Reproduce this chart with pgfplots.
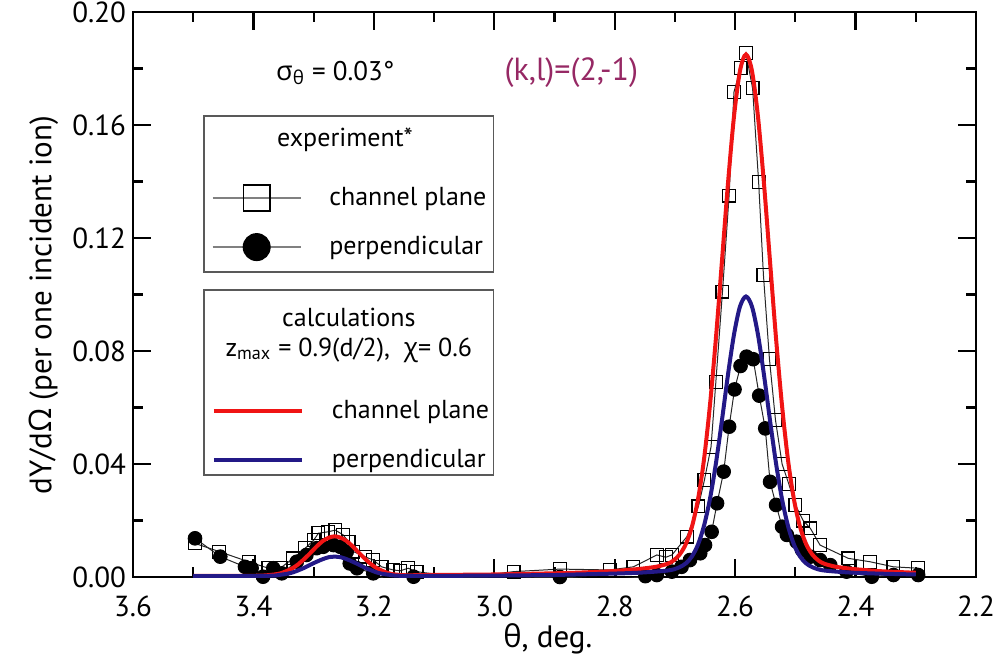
\documentclass[border=0pt]{standalone}
\usepackage{fontspec}
\setmainfont{PT Sans}
\newfontfamily\greekfont{Open Sans}
\newcommand{\gr}[1]{{\greekfont #1}}
\usepackage{pgfplots}
\pgfplotsset{compat=1.18}

\definecolor{calcred}{RGB}{240,20,20}
\definecolor{calcblue}{RGB}{35,25,135}
\definecolor{klcol}{RGB}{150,40,100}

\pgfplotsset{
  base/.style={
    scale only axis, width=421.5pt, height=282.5pt,
    x dir=reverse, xmin=2.2, xmax=3.6, ymin=0, ymax=0.2,
    clip mode=individual,
  },
  leg/.style={
    legend cell align=left,
    legend style={draw=none, fill=none, inner sep=0pt, outer sep=0pt,
      row sep=0pt, column sep=0pt, anchor=north west,
      cells={anchor=west},
      nodes={inner xsep=14pt, inner ysep=0pt, minimum height=24.5pt,
             font=\fontsize{13}{15}\selectfont}},
  },
  exp image/.style={legend image code/.code={
      \draw[gray, line width=0.7pt] (0pt,0pt) -- (44pt,0pt);
      \draw[#1, mark size=6.6pt, mark options={solid, black, line width=0.8pt}] plot coordinates {(22pt,0pt)};
  }},
  calc image/.style={legend image code/.code={
      \draw[#1] (0pt,0pt) -- (44pt,0pt);
  }},
}

\begin{document}
\begin{tikzpicture}
\path[use as bounding box] (-66.5pt,-41.5pt) rectangle (437.5pt,288.5pt);

% experimental yields
\begin{axis}[base, leg,
  legend style={at={(axis description cs:0.0937,0.714)}},
  tick align=inside, xtick pos=both, ytick pos=both,
  xticklabel pos=bottom, yticklabel pos=left,
  xtick={2.2,2.4,2.6,2.8,3.0,3.2,3.4,3.6}, minor x tick num=1,
  ytick={0,0.04,0.08,0.12,0.16,0.20}, minor y tick num=1,
  scaled y ticks=false,
  major tick length=9pt, minor tick length=5pt,
  every tick/.style={black, line width=1.1pt},
  axis line style={line width=1.2pt},
  /pgf/number format/assume math mode=true,
  xticklabel style={/pgf/number format/.cd, fixed, fixed zerofill, precision=1,
    /tikz/.cd, yshift=-6pt},
  yticklabel style={/pgf/number format/.cd, fixed, fixed zerofill, precision=2},
  tick label style={font=\fontsize{14.5}{17}\selectfont},
]
\addplot[black!85, line width=0.5pt, mark=square, mark size=3.2pt,
  mark options={solid, black, line width=0.6pt}, exp image] coordinates {
(3.497,0.0119) (3.457,0.0090) (3.408,0.0054) (3.375,0.0031) (3.355,0.0032)
(3.334,0.0066) (3.314,0.0102) (3.300,0.0130) (3.292,0.0155) (3.276,0.0160)
(3.264,0.0166) (3.251,0.0149) (3.242,0.0125) (3.234,0.0090) (3.215,0.0072)
(3.201,0.0060) (3.187,0.0036) (3.168,0.0025) (3.156,0.0022) (3.143,0.0031)
(3.129,0.0019) (3.052,-0.0003) (2.968,0.0019) (2.891,0.0028) (2.808,0.0025)
(2.769,0.0036) (2.730,0.0078) (2.715,0.0070) (2.705,0.0078) (2.680,0.0143)
(2.661,0.0250) (2.651,0.0343) (2.640,0.0461) (2.632,0.0691) (2.621,0.1010)
(2.610,0.1350) (2.602,0.1716) (2.591,0.1801) (2.582,0.1854) (2.571,0.1730)
(2.561,0.1399) (2.553,0.1069) (2.543,0.0771) (2.533,0.0556) (2.522,0.0400)
(2.511,0.0330) (2.500,0.0255) (2.487,0.0200) (2.475,0.0172) (2.459,0.0113)
(2.412,0.0066) (2.376,0.0054) (2.337,0.0036) (2.296,0.0031)
};
\addlegendentry{channel plane}
\addplot[black!85, line width=0.5pt, mark=*, mark size=3.4pt,
  mark options={solid, black}, exp image] coordinates {
(3.497,0.0137) (3.455,0.0072) (3.414,0.0036) (3.403,0.0031) (3.384,0.0001)
(3.367,0.0031) (3.353,0.0013) (3.328,0.0054) (3.312,0.0078) (3.295,0.0102)
(3.284,0.0107) (3.267,0.0113) (3.256,0.0107) (3.245,0.0090) (3.240,0.0048)
(3.228,0.0031) (3.201,0.0013) (3.184,-0.0005) (3.168,-0.0005) (3.151,-0.0005)
(3.134,0.0001) (2.971,-0.0005) (2.891,0.0000) (2.808,-0.0010) (2.769,-0.0003)
(2.749,0.0003) (2.730,0.0007) (2.705,0.0019) (2.689,0.0036) (2.675,0.0060)
(2.658,0.0084) (2.650,0.0113) (2.639,0.0160) (2.630,0.0261) (2.619,0.0373)
(2.610,0.0532) (2.601,0.0664) (2.591,0.0747) (2.581,0.0780) (2.570,0.0771)
(2.560,0.0642) (2.550,0.0526) (2.542,0.0337) (2.532,0.0255) (2.522,0.0178)
(2.514,0.0149) (2.498,0.0125) (2.489,0.0096) (2.475,0.0072) (2.459,0.0060)
(2.442,0.0042) (2.415,0.0019) (2.373,0.0001) (2.337,0.0007) (2.296,0.0007)
};
\addlegendentry{perpendicular}

% axis titles
\node[font=\fontsize{15.5}{18}\selectfont] at (axis description cs:0.492,-0.11)
  {\gr{θ}, deg.};
\node[font=\fontsize{15.5}{18}\selectfont, rotate=90] at (axis description cs:-0.106,0.481)
  {dY/d\gr{Ω} (per one incident ion)};

% annotations and legend frames
\node[font=\fontsize{13.5}{16}\selectfont] at (axis cs:3.264,0.1784)
  {\gr{σ}\textsubscript{\gr{θ}} = 0.03°};
\node[font=\fontsize{16}{19}\selectfont, text=klcol] at (axis cs:2.872,0.1784)
  {(k,l)=(2,-1)};
\draw[black!65, line width=0.6pt] (axis description cs:0.0842,0.540)
  rectangle (axis description cs:0.428,0.816);
\draw[black!65, line width=0.6pt] (axis description cs:0.0842,0.1805)
  rectangle (axis description cs:0.428,0.508);
\node[font=\fontsize{13}{15}\selectfont] at (axis description cs:0.2515,0.7735)
  {experiment*};
\node[font=\fontsize{13}{15}\selectfont] at (axis description cs:0.256,0.460)
  {calculations};
\node[font=\fontsize{13}{15}\selectfont] at (axis description cs:0.256,0.402)
  {z\textsubscript{max} = 0.9(d/2),\ \ \gr{χ}= 0.6};
\end{axis}

% calculated yields
\begin{axis}[base, leg, hide axis,
  legend style={at={(axis description cs:0.0937,0.3372)}},
]
\addplot[calcred, line width=2pt, smooth, calc image] coordinates {
(3.500,0.0004) (3.450,0.0004) (3.415,0.0004) (3.385,0.0005) (3.365,0.0009)
(3.355,0.0013) (3.345,0.0021) (3.335,0.0031) (3.325,0.0046) (3.315,0.0065)
(3.305,0.0086) (3.295,0.0108) (3.285,0.0127) (3.275,0.0139) (3.265,0.0144)
(3.255,0.0139) (3.245,0.0127) (3.235,0.0108) (3.225,0.0086) (3.215,0.0065)
(3.205,0.0046) (3.195,0.0031) (3.185,0.0021) (3.175,0.0013) (3.165,0.0009)
(3.145,0.0006) (3.115,0.0007) (3.050,0.0008) (3.000,0.0009) (2.950,0.0011)
(2.882,0.0014) (2.842,0.0017) (2.802,0.0021) (2.762,0.0028) (2.732,0.0036)
(2.712,0.0047) (2.702,0.0059) (2.692,0.0080) (2.682,0.0116) (2.672,0.0176)
(2.662,0.0271) (2.652,0.0411) (2.642,0.0604) (2.632,0.0843) (2.622,0.1115)
(2.612,0.1390) (2.602,0.1628) (2.592,0.1791) (2.582,0.1850) (2.572,0.1791)
(2.562,0.1628) (2.552,0.1390) (2.542,0.1115) (2.532,0.0843) (2.522,0.0604)
(2.512,0.0411) (2.502,0.0271) (2.492,0.0176) (2.482,0.0116) (2.472,0.0080)
(2.462,0.0059) (2.452,0.0047) (2.432,0.0036) (2.402,0.0028) (2.362,0.0021)
(2.322,0.0017) (2.300,0.0015)
};
\addlegendentry{channel plane}
\addplot[calcblue, line width=2pt, smooth, calc image] coordinates {
(3.500,0.0003) (3.415,0.0003) (3.385,0.0004) (3.365,0.0005) (3.355,0.0008)
(3.345,0.0011) (3.335,0.0016) (3.325,0.0024) (3.315,0.0033) (3.305,0.0044)
(3.295,0.0054) (3.285,0.0063) (3.275,0.0070) (3.265,0.0072) (3.255,0.0070)
(3.245,0.0063) (3.235,0.0054) (3.225,0.0044) (3.215,0.0033) (3.205,0.0024)
(3.195,0.0016) (3.185,0.0011) (3.175,0.0008) (3.165,0.0005) (3.145,0.0004)
(3.100,0.0004) (3.000,0.0005) (2.950,0.0006) (2.900,0.0007) (2.882,0.0008)
(2.842,0.0010) (2.802,0.0012) (2.762,0.0015) (2.732,0.0019) (2.712,0.0023)
(2.702,0.0027) (2.692,0.0035) (2.682,0.0048) (2.672,0.0072) (2.662,0.0113)
(2.652,0.0179) (2.642,0.0274) (2.632,0.0401) (2.622,0.0553) (2.612,0.0714)
(2.602,0.0857) (2.592,0.0957) (2.582,0.0993) (2.572,0.0957) (2.562,0.0857)
(2.552,0.0714) (2.542,0.0553) (2.532,0.0401) (2.522,0.0274) (2.512,0.0179)
(2.502,0.0113) (2.492,0.0072) (2.482,0.0048) (2.472,0.0035) (2.462,0.0027)
(2.452,0.0023) (2.432,0.0019) (2.402,0.0015) (2.362,0.0012) (2.322,0.0010)
(2.300,0.0009)
};
\addlegendentry{perpendicular}
\end{axis}
\end{tikzpicture}
\end{document}
